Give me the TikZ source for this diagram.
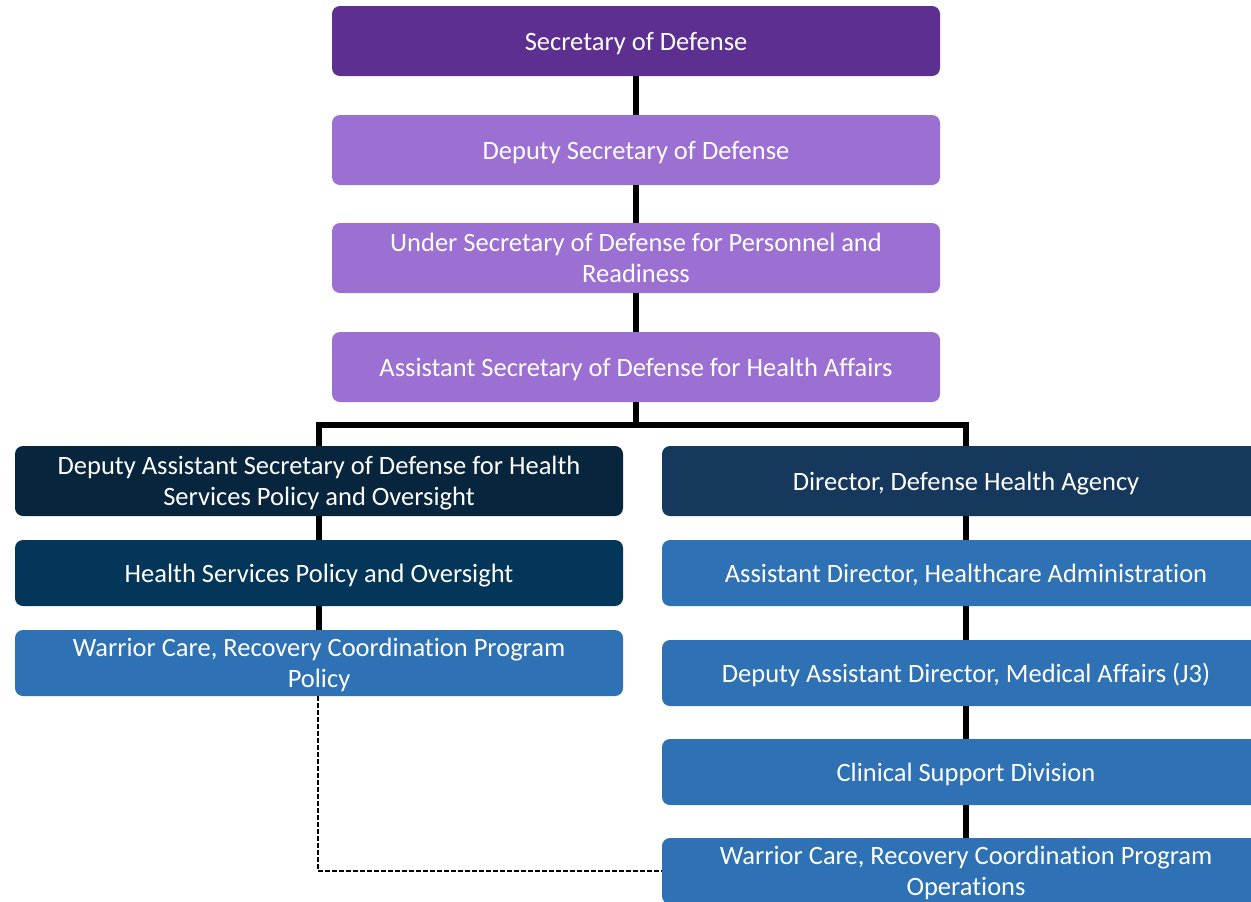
\documentclass[tikz,border=0pt]{standalone}
\usepackage{fontspec}
\setmainfont{Carlito}[Ligatures=NoCommon]
\definecolor{SecPurple}{RGB}{92,47,145}
\definecolor{LitePurple}{RGB}{155,112,210}
\definecolor{DeepNavy}{RGB}{8,37,62}
\definecolor{MidNavy}{RGB}{3,54,89}
\definecolor{AgencyNavy}{RGB}{23,56,93}
\definecolor{OpsBlue}{RGB}{46,113,180}
\tikzset{
    BX/.style ={rectangle,rounded corners=4pt,minimum width = 304pt, inner sep=0pt, text=white,
                text depth=0pt,align=center,font=\fontsize{13.25}{15.5}\selectfont},
    BA/.style ={BX,minimum height = 35pt, fill=SecPurple},
    BB/.style ={BX,minimum height = 35pt, fill=LitePurple},
    BC/.style ={BX,minimum height = 35pt, fill=DeepNavy},
    BD/.style ={BX,minimum height = 33pt, fill=MidNavy},
    BE/.style ={BX,minimum height = 35pt, fill=AgencyNavy},
    BF/.style ={BX,minimum height = 33pt, fill=OpsBlue},
    LN/.style ={line width=3pt},
    DL/.style ={line width=0.6pt,dash pattern=on 2.2pt off 1.3pt}}

\begin{document}
\begin{tikzpicture}[x=0.5pt,y=-0.5pt]
        \useasboundingbox (0,0) rectangle (1251,901);
        \node[BA] (sec) at(636,41){Secretary of Defense};
        \node[BB] (dep) at(636,150){Deputy Secretary of Defense};
        \node[BB] (usd) at(636,258){Under Secretary of Defense for Personnel and\\Readiness};
        \node[BB] (asd) at(636,367){Assistant Secretary of Defense for Health Affairs};
        \node[BC] (dasd) at(319,481){Deputy Assistant Secretary of Defense for Health\\Services Policy and Oversight};
        \node[BD] (hspo) at(319,573){Health Services Policy and Oversight};
        \node[BF] (wcpol) at(319,663){Warrior Care, Recovery Coordination Program\\Policy};
        \node[BE] (dha) at(966,481){Director, Defense Health Agency};
        \node[BF] (adha) at(966,573){Assistant Director, Healthcare Administration};
        \node[BF] (dadma) at(966,673){Deputy Assistant Director, Medical Affairs (J3)};
        \node[BF] (csd) at(966,772){Clinical Support Division};
        \node[BF] (wcops) at(966,871){Warrior Care, Recovery Coordination Program\\Operations};
        \coordinate (fork) at(636,425);
        \draw[LN] (sec) -- (dep);
        \draw[LN] (dep) -- (usd);
        \draw[LN] (usd) -- (asd);
        \draw[LN] (asd) -- (fork);
        \draw[LN] (fork) -| (dasd);
        \draw[LN] (fork) -| (dha);
        \draw[LN] (dasd) -- (hspo);
        \draw[LN] (hspo) -- (wcpol);
        \draw[LN] (dha) -- (adha);
        \draw[LN] (adha) -- (dadma);
        \draw[LN] (dadma) -- (csd);
        \draw[LN] (csd) -- (wcops);
        \draw[DL] (wcpol.south -| 318,0) |- (wcops.west);
    \end{tikzpicture}
\end{document}
